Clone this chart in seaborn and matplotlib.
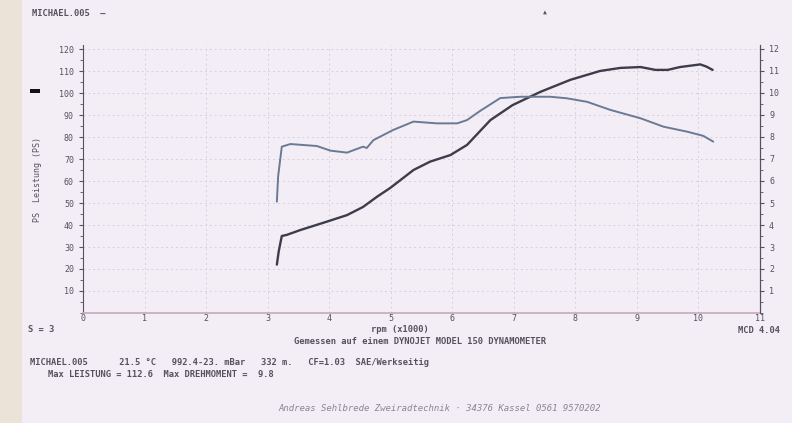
import matplotlib
matplotlib.use("Agg")
import matplotlib.pyplot as plt
import seaborn as sns
from matplotlib.patches import Rectangle
from matplotlib.ticker import MultipleLocator

# Power curve (PS) vs rpm (x1000)
rpm_power = [3.15, 3.18, 3.23, 3.31, 3.53, 3.96, 4.29, 4.55, 4.78, 4.99, 5.37,
             5.64, 5.97, 6.24, 6.62, 6.98, 7.43, 7.92, 8.40, 8.73, 9.06, 9.30,
             9.50, 9.70, 10.03, 10.13, 10.23]
power_ps = [22, 28, 35, 35.5, 37.7, 41.5, 44.5, 48.2, 52.9, 56.8, 65,
            68.8, 71.8, 76.4, 87.7, 94.5, 100.5, 106, 110, 111.4, 111.8, 110.5,
            110.5, 111.8, 113, 112, 110.5]

# Torque curve (mkp) vs rpm (x1000)
rpm_torque = [3.15, 3.17, 3.23, 3.37, 3.80, 4.02, 4.29, 4.55, 4.61, 4.72, 5.04,
              5.37, 5.75, 6.08, 6.24, 6.46, 6.78, 7.11, 7.59, 7.86, 8.19, 8.57,
              9.06, 9.43, 9.82, 10.08, 10.24]
torque_mkp = [5.06, 6.2, 7.56, 7.68, 7.59, 7.38, 7.29, 7.56, 7.5, 7.86, 8.32,
              8.7, 8.62, 8.62, 8.77, 9.2, 9.77, 9.83, 9.83, 9.76, 9.6, 9.23,
              8.85, 8.47, 8.24, 8.05, 7.79]

x_ticks = list(range(0, 12))
left_ticks = list(range(10, 130, 10))
right_ticks = list(range(1, 13))

sns.set_style("white")
plt.rcParams["font.family"] = ["DejaVu Sans Mono", "DejaVu Sans"]

bg = "#f3eef6"
ink = "#55525e"

fig = plt.figure(figsize=(7.92, 4.23), dpi=100, facecolor=bg)
fig.patches.append(Rectangle((0, 0), 22 / 792, 1, transform=fig.transFigure,
                             facecolor="#ebe2d8", edgecolor="none", zorder=0))

ax = fig.add_axes([83 / 792, 1 - 313 / 423, (760 - 83) / 792, (313 - 45) / 423])
ax.set_facecolor(bg)
ax2 = ax.twinx()

sns.lineplot(x=rpm_power, y=power_ps, ax=ax, color="#3d3c4a", lw=1.7,
             estimator=None, sort=False)
sns.lineplot(x=rpm_torque, y=torque_mkp, ax=ax2, color="#6a7a94", lw=1.4,
             estimator=None, sort=False)

ax.set_xlim(0, 11)
ax.set_ylim(0, 268 / 22 * 10)
ax2.set_ylim(0, 268 / 22)

ax.set_xticks(x_ticks)
ax.set_yticks(left_ticks)
ax.yaxis.set_minor_locator(MultipleLocator(5))
ax2.set_yticks(right_ticks)
ax2.yaxis.set_minor_locator(MultipleLocator(0.5))

ax.grid(True, color="#d9cfe0", lw=0.7, ls=(0, (2, 3)))
ax.set_axisbelow(True)

for a in (ax, ax2):
    a.spines["top"].set_visible(False)
    a.tick_params(labelsize=6, colors=ink, length=3, width=0.8)
    a.tick_params(which="minor", length=2, width=0.6, colors=ink)
ax.spines["bottom"].set_color("#c9a9b8")
ax.spines["bottom"].set_linewidth(1.2)
ax.spines["left"].set_color(ink)
ax2.spines["right"].set_color(ink)
ax2.spines["left"].set_visible(False)
ax2.spines["bottom"].set_visible(False)
ax.tick_params(axis="x", length=0, pad=1)
ax.set_xlabel("")
ax.set_ylabel("PS  Leistung (PS)", fontsize=6, color=ink, labelpad=12)
ax2.set_ylabel("")

fig.patches.append(Rectangle((30 / 792, 1 - 93 / 423), 10 / 792, 4 / 423,
                             transform=fig.transFigure, facecolor="#111111",
                             edgecolor="none"))

tk = dict(color=ink, fontsize=6.3, fontweight="bold")
fig.text(32 / 792, 1 - 13 / 423, "MICHAEL.005  \u2013", va="center", **tk)
fig.text(545 / 792, 1 - 12 / 423, "\u25b4", va="center", ha="center", color=ink, fontsize=7)
fig.text(28 / 792, 1 - 329 / 423, "S = 3", va="center", **tk)
fig.text(400 / 792, 1 - 329 / 423, "rpm (x1000)", va="center", ha="center", **tk)
fig.text(738 / 792, 1 - 330 / 423, "MCD 4.04", va="center", **tk)
fig.text(420 / 792, 1 - 341 / 423, "Gemessen auf einem DYNOJET MODEL 150 DYNAMOMETER",
         va="center", ha="center", **tk)
fig.text(30 / 792, 1 - 362 / 423,
         "MICHAEL.005      21.5 \u00b0C   992.4-23. mBar   332 m.   CF=1.03  SAE/Werkseitig",
         va="center", **tk)
fig.text(48 / 792, 1 - 374 / 423, "Max LEISTUNG = 112.6  Max DREHMOMENT =  9.8",
         va="center", **tk)
fig.text(440 / 792, 1 - 408 / 423,
         "Andreas Sehlbrede Zweiradtechnik \u00b7 34376 Kassel 0561 9570202",
         va="center", ha="center", color="#8a8592", fontsize=6.5, style="italic")

fig.savefig("out.png", dpi=100, facecolor=bg)
